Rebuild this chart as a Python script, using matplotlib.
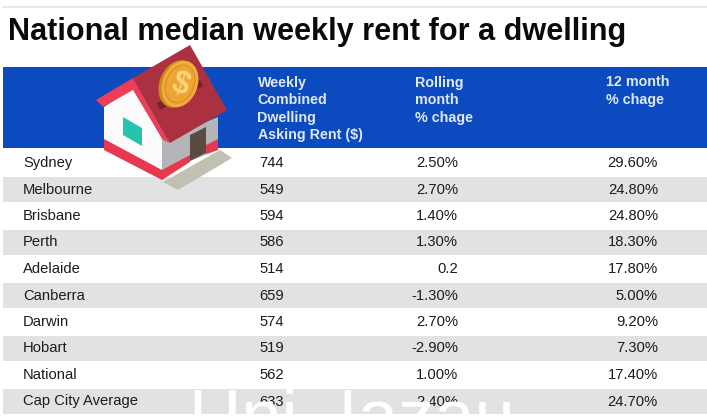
import matplotlib
matplotlib.use("Agg")
import matplotlib.pyplot as plt
from matplotlib.patches import Polygon, Ellipse, Rectangle

title = "National median weekly rent for a dwelling"
headers = ["Weekly\nCombined\nDwelling\nAsking Rent ($)", "Rolling\nmonth\n% chage", "12 month\n% chage"]
cities = ["Sydney", "Melbourne", "Brisbane", "Perth", "Adelaide", "Canberra", "Darwin", "Hobart", "National", "Cap City Average"]
rents = ["744", "549", "594", "586", "514", "659", "574", "519", "562", "633"]
rolling = ["2.50%", "2.70%", "1.40%", "1.30%", "0.2", "-1.30%", "2.70%", "-2.90%", "1.00%", "2.40%"]
yearly = ["29.60%", "24.80%", "24.80%", "18.30%", "17.80%", "5.00%", "9.20%", "7.30%", "17.40%", "24.70%"]

plt.rcParams["font.family"] = ["Liberation Sans", "DejaVu Sans"]
fig = plt.figure(figsize=(7.07, 4.20), dpi=100)
ax = fig.add_axes([0, 0, 1, 1])
ax.set_xlim(0, 707)
ax.set_ylim(420, 0)
ax.axis("off")

BLUE = "#0b4abf"
GREY = "#e1e2e4"
ax.plot([3, 707], [6.5, 6.5], color="#e4e4e4", lw=1.2)
ax.text(8, 32, title, fontsize=22.05, fontweight="bold", color="#0a0a0a", va="center", ha="left")

ax.add_patch(Rectangle((3, 67), 704, 81, color=BLUE, lw=0))
hx = [257.5, 415, 606.5]
for x, h in zip(hx, headers):
    ax.text(x, 75.5, h, color="#dfe8fb", fontsize=10.3, fontweight="bold", va="top", ha="left", linespacing=1.33)

row_h = 26.5
top = 148.5
for i, (c, r, m, y) in enumerate(zip(cities, rents, rolling, yearly)):
    y0 = top + i * row_h
    if i % 2 == 1:
        ax.add_patch(Rectangle((3, y0 + 2), 704, row_h - 1.5, color=GREY, lw=0))
    yc = y0 + 14.5
    ax.text(23, yc, c, fontsize=10.6, color="#1c1c1c", va="center", ha="left")
    ax.text(259, yc, r, fontsize=10.6, color="#1c1c1c", va="center", ha="left")
    ax.text(458, yc, m, fontsize=10.6, color="#1c1c1c", va="center", ha="right")
    ax.text(658, yc, y, fontsize=10.6, color="#1c1c1c", va="center", ha="right")

# watermark bleeding over the last row
ax.text(352, 440, "Uni  Iazau", fontsize=52, color="white", va="baseline", ha="center", clip_on=True, zorder=4)

# house illustration
Z = 6
def poly(pts, col, z=Z):
    ax.add_patch(Polygon(pts, closed=True, facecolor=col, edgecolor="none", zorder=z))

poly([(163, 182), (220, 150), (232, 158), (178, 190)], "#c2c0b3")
poly([(104, 107), (133, 88), (163, 140), (162, 170), (104, 140)], "#fbfbfb")
poly([(162, 140), (218, 117), (218, 150), (162, 172)], "#b4b5b8")
poly([(104, 139), (162, 170), (190, 155), (190, 162), (162, 180), (104, 150)], "#e8384f")
poly([(206, 145), (218, 139), (218, 150), (206, 154)], "#e8384f")
poly([(190, 135), (206, 127), (206, 153), (190, 161)], "#5b4a42")
poly([(123, 117), (142, 128), (142, 146), (123, 135)], "#25c4ae")
poly([(96, 100), (133, 78), (170, 143), (163, 140), (133, 90), (103, 107)], "#ee3e55")
poly([(133, 78), (190, 45), (227, 110), (170, 143)], "#ab3040")
poly([(157, 103), (200, 80), (203, 86), (160, 110)], "#7a1f2e")
ax.add_patch(Ellipse((177, 84), 35, 49, angle=21, facecolor="#c98a1c", edgecolor="none", zorder=Z))
ax.add_patch(Ellipse((180, 84), 35, 48, angle=21, facecolor="#f2ac3a", edgecolor="none", zorder=Z))
ax.add_patch(Ellipse((180, 84), 28, 39, angle=21, facecolor="#eea533", edgecolor="#d58f22", lw=0.8, zorder=Z))
ax.text(180, 85, "$", fontsize=22, fontweight="bold", color="#fbd67b", ha="center", va="center", rotation=-20, zorder=Z + 1)

fig.savefig("out.png", dpi=100)
